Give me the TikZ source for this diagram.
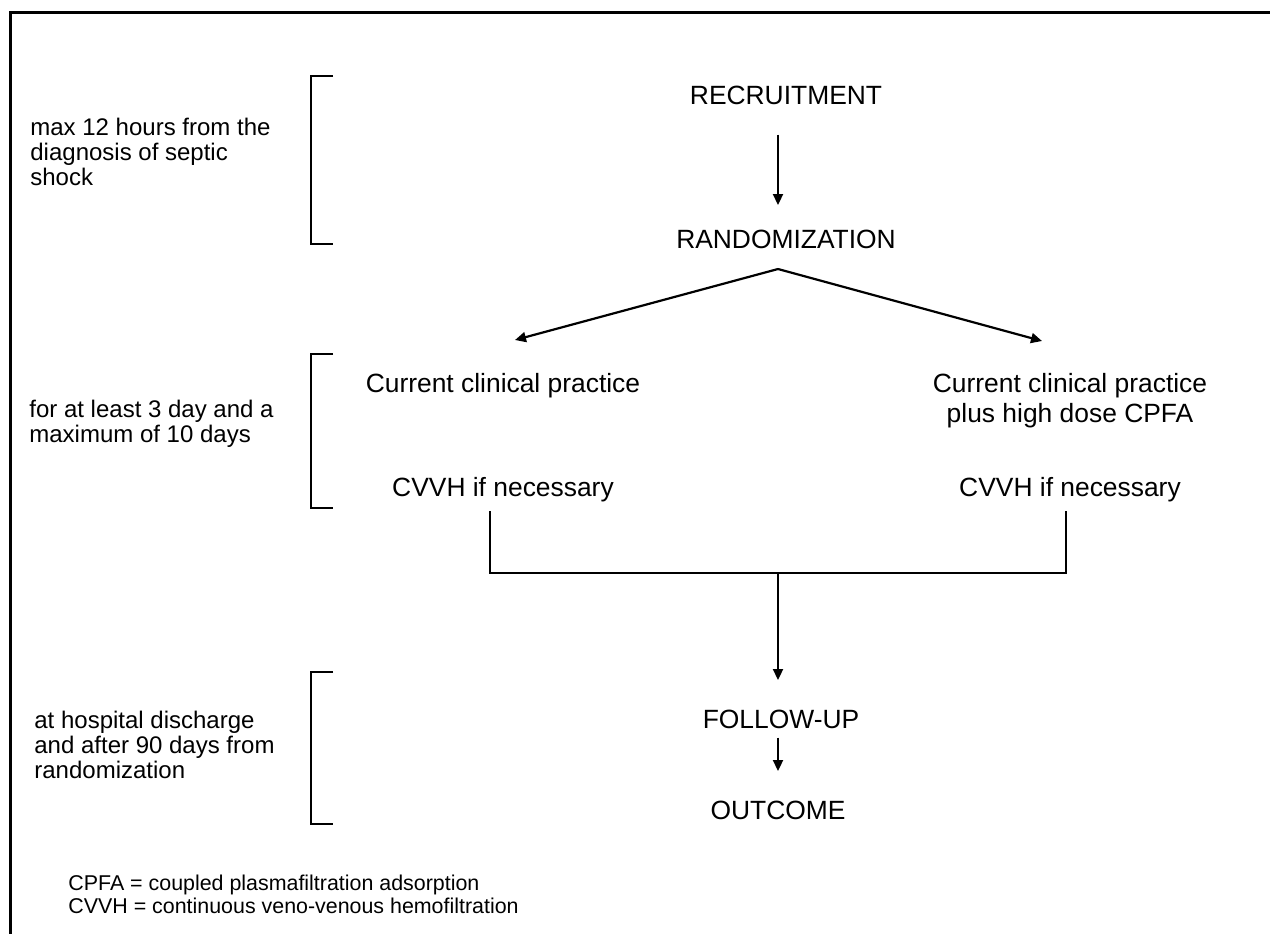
\documentclass[tikz,border=0pt]{standalone}
\usepackage{fontspec}
\setmainfont{Liberation Sans}
\usetikzlibrary{arrows.meta,positioning,calc}

\begin{document}
\begin{tikzpicture}[
  x=0.5pt,y=-0.5pt,
  lbl/.style={inner sep=0pt,anchor=base,align=center,
              font=\fontsize{13.2}{15}\selectfont},
  note/.style={inner sep=0pt,anchor=base west,align=left,
               font=\fontsize{12}{12.5}\selectfont},
  foot/.style={inner sep=0pt,anchor=base west,align=left,
               font=\fontsize{10.7}{11.5}\selectfont},
  brk/.style={line width=1pt},
  arr/.style={-{Triangle[length=5.5pt,width=5pt]},line width=1.1pt}
]
\useasboundingbox (0,0) rectangle (1270,934);
% frame
\draw[line width=1.5pt] (1270,12) -- (10,12) -- (10,934);

% main flow (multi-line nodes sit on their last baseline)
\node[lbl] (rec)   at (786,104) {RECRUITMENT};
\node[lbl] (rand)  at (786,248) {RANDOMIZATION};
\node[lbl] (ccp)   at (503,392) {Current clinical practice};
\node[lbl] (cpfa)  at (1070,422) {Current clinical practice\\plus high dose CPFA};
\node[lbl] (cvvhA) at (503,496) {CVVH if necessary};
\node[lbl] (cvvhB) at (1070,496) {CVVH if necessary};
\node[lbl] (fup)   at (781,728) {FOLLOW-UP};
\node[lbl] (out)   at (778,819) {OUTCOME};

\coordinate (split) at (778,269);
\coordinate (tipA)  at (515,340);
\coordinate (tipB)  at (1042,341);
\coordinate (join)  at (778,573);

\draw[arr] (rec.south -| split) ++(0,30) -- (778,205);
\draw[arr] (split) -- (tipA);
\draw[arr] (split) -- (tipB);
\draw[line width=1.1pt] (490,511) |- (join) -| (1066,511);
\draw[arr] (join) -- (778,680);
\draw[arr] (fup.south -| split) ++(0,9) -- (778,771);

% time windows
\draw[brk] (333,76) -- (311,76) -- (311,244) -- (333,244);
\draw[brk] (333,354) -- (311,354) -- (311,508) -- (333,508);
\draw[brk] (333,672) -- (311,672) -- (311,824) -- (333,824);

\node[note] (win1) at (30,185) {max 12 hours from the\\diagnosis of septic\\shock};
\node[note] (win2) at (29,442) {for at least 3 day and a\\maximum of 10 days};
\node[note] (win3) at (34,778) {at hospital discharge\\and after 90 days from\\randomization};

% abbreviations
\node[foot] (abbr) at (68,913) {CPFA = coupled plasmafiltration adsorption\\CVVH = continuous veno-venous hemofiltration};
\end{tikzpicture}
\end{document}
